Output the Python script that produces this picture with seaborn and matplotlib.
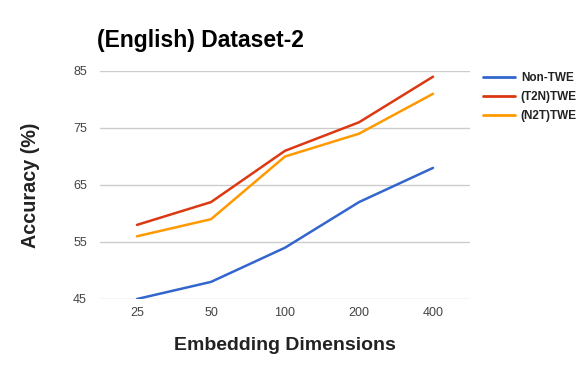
import matplotlib
matplotlib.use("Agg")
import matplotlib.pyplot as plt
import pandas as pd
import seaborn as sns

# ── data ──
dims = ["25", "50", "100", "200", "400"]
non_twe = [45, 48, 54, 62, 68]
t2n_twe = [58, 62, 71, 76, 84]
n2t_twe = [56, 59, 70, 74, 81]
series_names = ["Non-TWE", "(T2N)TWE", "(N2T)TWE"]
y_ticks = [45, 55, 65, 75, 85]

colors = {"Non-TWE": "#3366cc", "(T2N)TWE": "#dc3912", "(N2T)TWE": "#ff9900"}

df = pd.DataFrame({"dim": dims * 3,
                   "acc": non_twe + t2n_twe + n2t_twe,
                   "method": [n for n in series_names for _ in dims]})
df["pos"] = list(range(len(dims))) * 3

sns.set_theme(style="white")
plt.rcParams["font.family"] = ["Liberation Sans", "DejaVu Sans"]

fig = plt.figure(figsize=(5.85, 3.71), dpi=100)
ax = fig.add_axes([100 / 585, 1 - 299 / 371, 370 / 585, 228 / 371])

sns.lineplot(data=df, x="pos", y="acc", hue="method", palette=colors,
             hue_order=series_names, linewidth=1.8, ax=ax, legend=False)

ax.set_xlim(-0.5, len(dims) - 0.5)
ax.set_ylim(45, 85)
ax.set_yticks(y_ticks)
ax.set_xticks(range(len(dims)))
ax.set_xticklabels(dims)
ax.yaxis.grid(True, color="#cccccc", linewidth=1)
ax.set_axisbelow(True)
for s in ax.spines.values():
    s.set_visible(False)
ax.tick_params(axis="both", length=0, labelsize=9, colors="#444444")
ax.tick_params(axis="x", pad=6)
ax.tick_params(axis="y", pad=9.5)

ax.set_xlabel("")
ax.set_ylabel("")
fig.text(285 / 585, 1 - 346 / 371, "Embedding Dimensions", ha="center", va="center",
         fontsize=14, weight="bold", color="#222222")
fig.text(31 / 585, 1 - 185 / 371, "Accuracy (%)", ha="center", va="center",
         rotation=90, fontsize=14.2, weight="bold", color="#222222")
fig.text(97 / 585, 1 - 41 / 371, "(English) Dataset-2", ha="left", va="center",
         fontsize=16.5, weight="bold", color="#000000")

handles = [plt.Line2D([0], [0], color=colors[n], lw=2) for n in series_names]
leg = fig.legend(handles, series_names, loc="upper left",
                 bbox_to_anchor=(483 / 585, 1 - 72 / 371), frameon=False,
                 borderpad=0, borderaxespad=0,
                 handlelength=2.7, handletextpad=0.5, labelspacing=0.6,
                 prop={"size": 8.5, "weight": "bold"})
for t in leg.get_texts():
    t.set_color("#222222")

fig.savefig("out.png", dpi=100)
